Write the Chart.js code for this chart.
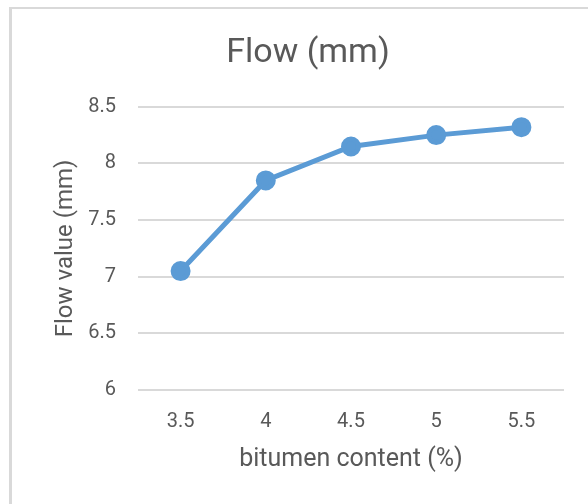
<!DOCTYPE html>
<html>
<head>
<meta charset="utf-8">
<script src="https://cdn.jsdelivr.net/npm/chart.js@4/dist/chart.umd.min.js"></script>
<style>
  html, body { margin: 0; padding: 0; background: #fff; }
  #wrap { position: relative; width: 588px; height: 504px; }
  #frame { position: absolute; left: 9px; top: 7px; right: 0; bottom: 0;
           border-left: 3px solid #d9d9d9; border-top: 2px solid #d9d9d9; }
  canvas { position: absolute; left: 0; top: 0; }
</style>
</head>
<body>
<div id="wrap">
  <div id="frame"></div>
  <canvas id="flow-chart" width="588" height="504"></canvas>
</div>
<script>
var bitumen = ['3.5', '4', '4.5', '5', '5.5'];
var flowValues = [7.05, 7.85, 8.15, 8.25, 8.32];

var textColor = '#595959';
var fontFamily = 'Roboto, "Liberation Sans", sans-serif';

const ctx = document.getElementById('flow-chart');
new Chart(ctx, {
    type: 'line',
    data: {
        labels: bitumen,
        datasets: [{
            label: 'Flow (mm)',
            data: flowValues,
            borderColor: '#5b9bd5',
            backgroundColor: '#5b9bd5',
            borderWidth: 5,
            pointRadius: 7.5,
            pointHoverRadius: 7.5,
            tension: 0
        }]
    },
    options: {
        responsive: false,
        animation: false,
        layout: {
            padding: { left: 52, right: 24, top: 20, bottom: 29 }
        },
        plugins: {
            legend: { display: false },
            tooltip: { enabled: false },
            title: {
                display: true,
                text: 'Flow (mm)',
                color: textColor,
                font: { family: fontFamily, size: 34, weight: 'normal' },
                padding: { top: 13, bottom: 33 }
            }
        },
        scales: {
            x: {
                offset: true,
                grid: { display: false, drawTicks: false },
                border: { display: false },
                ticks: {
                    color: textColor,
                    padding: 20,
                    font: { family: fontFamily, size: 20 }
                },
                title: {
                    display: true,
                    text: 'bitumen content (%)',
                    color: textColor,
                    padding: 0,
                    font: { family: fontFamily, size: 25 }
                },
                afterFit: function (scale) {
                    scale.height = 85;
                }
            },
            y: {
                min: 6,
                max: 8.5,
                ticks: {
                    stepSize: 0.5,
                    color: textColor,
                    padding: 22,
                    font: { family: fontFamily, size: 20 },
                    callback: function (value) {
                        return String(value);
                    }
                },
                grid: { color: '#d9d9d9', lineWidth: 2, drawTicks: false },
                border: { display: false },
                title: {
                    display: true,
                    text: 'Flow value (mm)',
                    color: textColor,
                    padding: 0,
                    font: { family: fontFamily, size: 24 }
                },
                afterFit: function (scale) {
                    scale.width = 86;
                }
            }
        }
    }
});
</script>
</body>
</html>
